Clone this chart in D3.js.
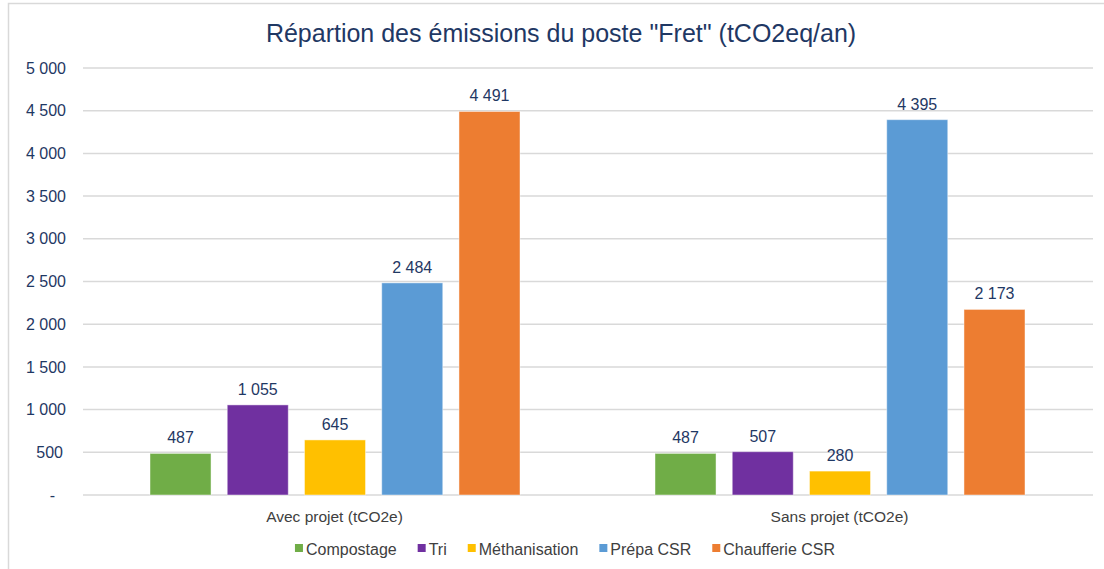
<!DOCTYPE html>
<html>
<head>
<meta charset="utf-8">
<script src="https://cdn.jsdelivr.net/npm/d3@7"></script>
<style>
  body { margin: 0; background: #fff; }
  svg { display: block; font-family: "Liberation Sans", Arial, sans-serif; }
</style>
</head>
<body>
<div id="chart"></div>
<script>
// ---- data ----
const groups = ["Avec projet (tCO2e)", "Sans projet (tCO2e)"];
const series = ["Compostage", "Tri", "Méthanisation", "Prépa CSR", "Chaufferie CSR"];
const avecProjet = [487, 1055, 645, 2484, 4491];
const sansProjet = [487, 507, 280, 4395, 2173];
const yTicks = [0, 500, 1000, 1500, 2000, 2500, 3000, 3500, 4000, 4500, 5000];
const colors = ["#70ad47", "#7030a0", "#ffc000", "#5b9bd5", "#ed7d31"];

const W = 1104, H = 569;
const plot = { left: 83, right: 1093, top: 68, bottom: 495 };
const navy = "#1f3864";

const svg = d3.select("#chart").append("svg")
  .attr("width", W).attr("height", H);

// chart frame
svg.append("rect")
  .attr("x", 8.5).attr("y", 3.5)
  .attr("width", W + 20).attr("height", H + 20)
  .attr("fill", "#fff")
  .attr("stroke", "#d9d9d9").attr("stroke-width", 1.5);

// title
svg.append("text")
  .attr("x", 561).attr("y", 42)
  .attr("text-anchor", "middle")
  .style("font-size", "25px")
  .style("fill", navy)
  .text('Répartion des émissions du poste "Fret" (tCO2eq/an)');

// scales
const y = d3.scaleLinear().domain([0, 5000]).range([plot.bottom, plot.top]);
const x0 = d3.scaleBand().domain(groups).range([plot.left, plot.right]).padding(0);
const x1 = d3.scaleBand().domain(series)
  .range([67, 437]).paddingInner(0.21).paddingOuter(0);

const fmt = d3.formatLocale({ decimal: ",", thousands: "\u2009", grouping: [3], currency: ["", ""] }).format(",d");
const label = v => v === 0 ? "-" : fmt(v).replace("\u2009", " ");

// grid lines
svg.append("g").selectAll("line")
  .data(yTicks)
  .join("line")
    .attr("x1", plot.left).attr("x2", plot.right)
    .attr("y1", d => y(d)).attr("y2", d => y(d))
    .attr("stroke", "#d9d9d9").attr("stroke-width", 1.5);

// y axis labels
const yAxis = svg.append("g")
  .attr("transform", `translate(${plot.left - 17},0)`)
  .call(d3.axisLeft(y).tickValues(yTicks).tickSize(0).tickPadding(0).tickFormat(label));
yAxis.select(".domain").remove();
yAxis.selectAll("text")
  .style("font-size", "16px")
  .style("font-family", "Liberation Sans, Arial, sans-serif")
  .style("fill", navy)
  .attr("dx", d => d === 0 ? -11 : (d === 500 ? -3 : 0));

// bars
const rows = groups.map((g, gi) => ({ group: g, values: gi === 0 ? avecProjet : sansProjet }));

const gGroups = svg.append("g").selectAll("g")
  .data(rows)
  .join("g")
    .attr("transform", d => `translate(${x0(d.group)},0)`);

gGroups.selectAll("rect")
  .data(d => d.values.map((v, i) => ({ key: series[i], value: v, i })))
  .join("rect")
    .attr("x", d => x1(d.key))
    .attr("width", x1.bandwidth())
    .attr("y", d => y(d.value))
    .attr("height", d => y(0) - y(d.value))
    .attr("fill", d => colors[d.i])
    .attr("stroke", "rgba(255,255,255,0.45)")
    .attr("stroke-width", 1);

gGroups.selectAll("text")
  .data(d => d.values.map((v, i) => ({ key: series[i], value: v })))
  .join("text")
    .attr("x", d => x1(d.key) + x1.bandwidth() / 2)
    .attr("y", d => y(d.value) - 10)
    .attr("text-anchor", "middle")
    .style("font-size", "16px")
    .style("fill", navy)
    .text(d => label(d.value));

// category labels
svg.append("g").selectAll("text")
  .data(groups)
  .join("text")
    .attr("x", d => x0(d) + x0.bandwidth() / 2 - 1)
    .attr("y", 522)
    .attr("text-anchor", "middle")
    .style("font-size", "15.5px")
    .style("fill", "#404040")
    .text(d => d);

// legend
const legend = svg.append("g");
const items = legend.selectAll("g")
  .data(series)
  .join("g");
items.append("rect")
  .attr("width", 8).attr("height", 8)
  .attr("y", -5)
  .attr("fill", (d, i) => colors[i]);
items.append("text")
  .attr("x", 11).attr("y", 5.5)
  .style("font-size", "16px")
  .style("fill", "#404040")
  .text(d => d);

let cursor = 0;
items.each(function () {
  const w = 11 + d3.select(this).select("text").node().getComputedTextLength();
  d3.select(this).attr("transform", `translate(${cursor},0)`);
  cursor += w + 21;
});
const legendWidth = cursor - 21;
legend.attr("transform", `translate(${565 - legendWidth / 2},549)`);
</script>
</body>
</html>
